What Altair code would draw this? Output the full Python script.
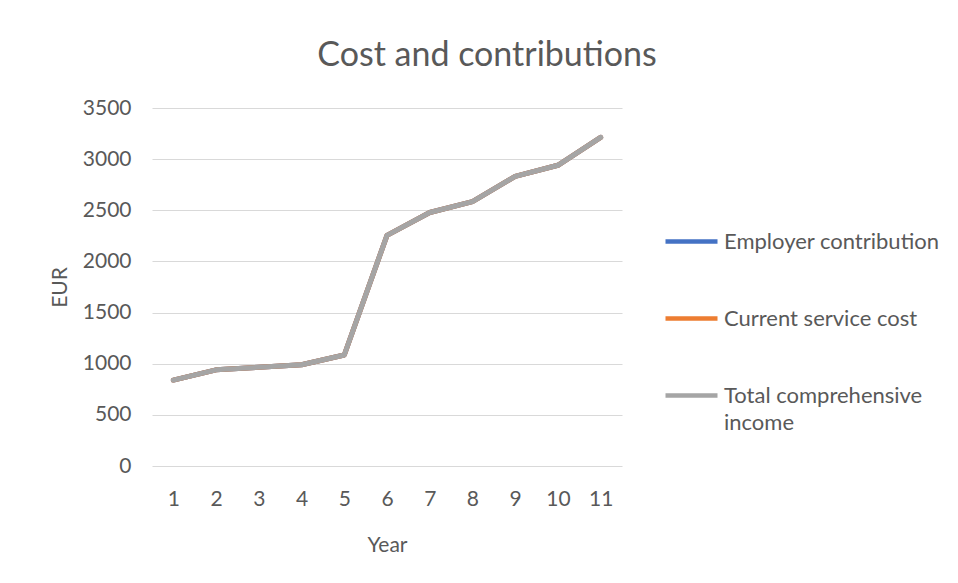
import altair as alt
import pandas as pd

years = [1, 2, 3, 4, 5, 6, 7, 8, 9, 10, 11]
employer_contribution = [840, 940, 965, 990, 1085, 2255, 2478, 2585, 2832, 2940, 3212]
current_service_cost = [840, 940, 965, 990, 1085, 2255, 2478, 2585, 2832, 2940, 3212]
total_comprehensive_income = [840, 940, 965, 990, 1085, 2255, 2478, 2585, 2832, 2940, 3212]
series_names = ["Employer contribution", "Current service cost", "Total comprehensive income"]
series_colors = ["#4472C4", "#ED7D31", "#A5A5A5"]
y_ticks = [0, 500, 1000, 1500, 2000, 2500, 3000, 3500]

rows = []
for name, vals in zip(series_names, [employer_contribution, current_service_cost, total_comprehensive_income]):
    for yr, v in zip(years, vals):
        rows.append({"Year": yr, "Series": name, "EUR": v})
df = pd.DataFrame(rows)

FONT = "Lato"
TXT = "#595959"

chart = alt.Chart(df).mark_line(strokeWidth=5, strokeCap="round", strokeJoin="round").encode(
    x=alt.X("Year:O", scale=alt.Scale(type="point", padding=0.5),
            axis=alt.Axis(title="Year", labelAngle=0, domain=False, ticks=False, grid=False,
                          labelPadding=22, titleBaseline="alphabetic", titleY=85)),
    y=alt.Y("EUR:Q", scale=alt.Scale(domain=[0, 3500], nice=False),
            axis=alt.Axis(title="EUR", values=y_ticks, format="d", domain=False, ticks=False,
                          labelPadding=21, gridColor="#D9D9D9", gridWidth=1,
                          titleBaseline="alphabetic", titleX=-86, titleY=179, titleAngle=-90)),
    color=alt.Color("Series:N", sort=series_names,
                    scale=alt.Scale(domain=series_names, range=series_colors),
                    legend=alt.Legend(title=None, orient="none", legendX=511, legendY=105,
                                      symbolType="stroke", symbolSize=2704, symbolStrokeWidth=4.5,
                                      labelOffset=4, rowPadding=37, padding=0,
                                      labelExpr="datum.label == 'Total comprehensive income' ? ['Total comprehensive', 'income'] : datum.label",
                                      labelLimit=400)),
    order=alt.Order("Series:N"),
).properties(
    width=470,
    height=358,
    title=alt.TitleParams("Cost and contributions", anchor="middle", dx=100, dy=-20, fontSize=34,
                          font=FONT, fontWeight="normal", color=TXT),
    padding={"left": 152, "top": 108, "right": 336, "bottom": 117},
    autosize=alt.AutoSizeParams(type="none"),
).configure(background="white", style={"guide-label": {"lineHeight": 27}}).configure_view(stroke=None).configure_axis(
    labelFont=FONT, titleFont=FONT, labelColor=TXT, titleColor=TXT,
    labelFontSize=21, titleFontSize=21, titleFontWeight="normal",
).configure_legend(
    labelFont=FONT, labelColor=TXT, labelFontSize=22, labelBaseline="middle",
)

chart.save("out.html", embed_options={"renderer": "svg", "actions": False})
